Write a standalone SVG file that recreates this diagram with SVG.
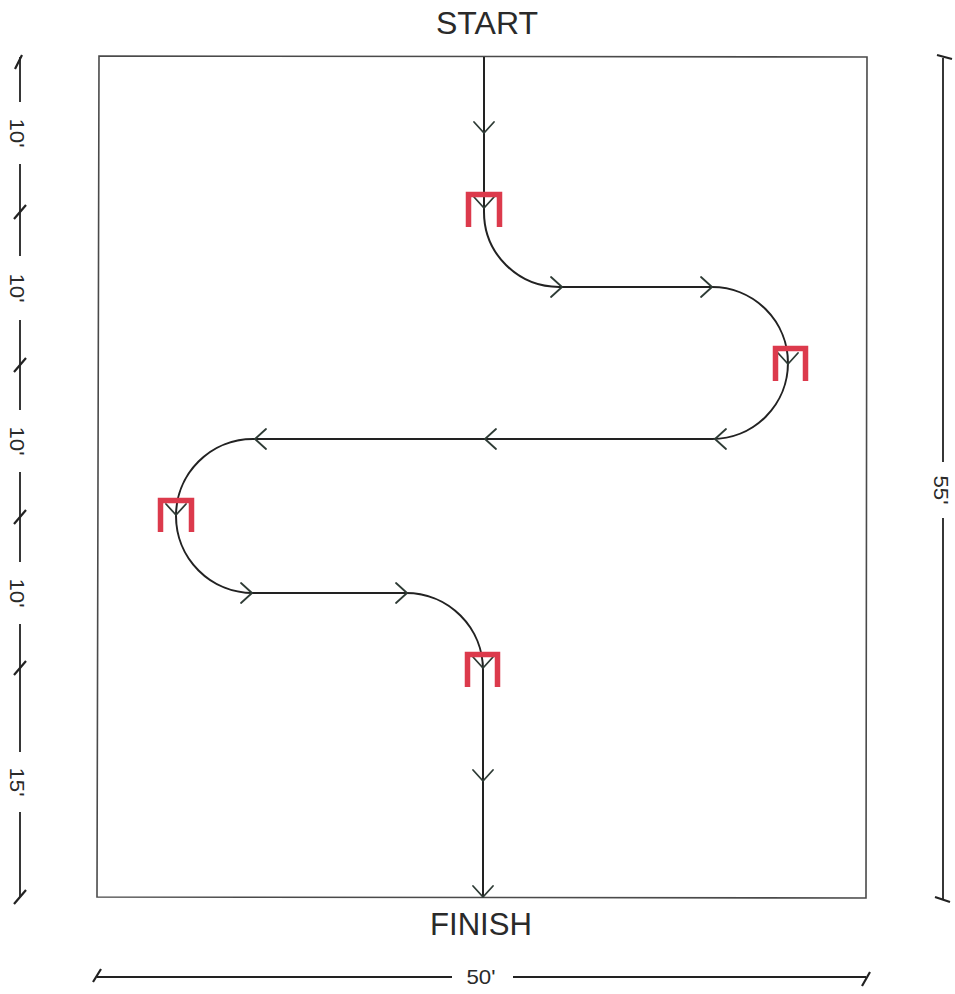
<svg xmlns="http://www.w3.org/2000/svg" width="955" height="994" viewBox="0 0 955 994">
<defs>
<style>
.bg{fill:#ffffff}
.box{fill:none;stroke:#4a4a4a;stroke-width:1.6}
.path{fill:none;stroke:#222;stroke-width:2}
.arr{fill:none;stroke:#2e3b35;stroke-width:1.8;stroke-linecap:round;stroke-linejoin:round}
.gate{fill:none;stroke:#dc3a4c;stroke-width:5.5;stroke-linejoin:miter}
.dim{fill:none;stroke:#222;stroke-width:1.8}
.tick{fill:none;stroke:#222;stroke-width:2.2}
.lbl{font-family:"Liberation Sans",Arial,sans-serif;fill:#2a2a2a}
.big{font-size:31px}
.sm{font-size:21px}
</style>
<path id="chev" class="arr" d="M-10,-11 L0,0 L10,-11"/>
</defs>
<rect class="bg" x="0" y="0" width="955" height="994"/>

<g id="arena">
<path class="box" d="M99,56 L867,57 L866,898 L97,897 Z"/>
</g>

<g id="connectors">
<path class="path" d="M484,57 V212 A75,75 0 0 0 559,287 H712 A76,76 0 0 1 712,439 H253 A77,77 0 0 0 253,593 H406 A77,77 0 0 1 483,670 V897"/>
<use href="#chev" transform="translate(484,133)"/>
<use href="#chev" transform="translate(484,208)"/>
<use href="#chev" transform="translate(562,287) rotate(-90)"/>
<use href="#chev" transform="translate(712,287) rotate(-90)"/>
<use href="#chev" transform="translate(788,364)"/>
<use href="#chev" transform="translate(715,439) rotate(90)"/>
<use href="#chev" transform="translate(485,439) rotate(90)"/>
<use href="#chev" transform="translate(255,439) rotate(90)"/>
<use href="#chev" transform="translate(176,515)"/>
<use href="#chev" transform="translate(252,593) rotate(-90)"/>
<use href="#chev" transform="translate(407,593) rotate(-90)"/>
<use href="#chev" transform="translate(483,668)"/>
<use href="#chev" transform="translate(483,781)"/>
<use href="#chev" transform="translate(483,897)"/>
</g>

<g id="gate1"><path class="gate" d="M468.5,227 V194.5 H499.5 V227"/></g>
<g id="gate2"><path class="gate" d="M775.5,381 V348.5 H805.5 V381"/></g>
<g id="gate3"><path class="gate" d="M160.5,532 V500.5 H191.5 V532"/></g>
<g id="gate4"><path class="gate" d="M467.5,687 V654.5 H497.5 V687"/></g>

<g id="start"><text class="lbl big" x="487" y="34" text-anchor="middle" textLength="102" lengthAdjust="spacingAndGlyphs">START</text></g>
<g id="finish"><text class="lbl big" x="481" y="935" text-anchor="middle" textLength="102" lengthAdjust="spacingAndGlyphs">FINISH</text></g>

<g id="dim-left">
<path class="dim" d="M20,57 V102 M20,164 V256 M20,320 V410 M20,472 V562 M20,624 V752 M20,812 V897"/>
<path class="tick" d="M15,69 L22,55 M14,219 L26,205 M14,372 L26,358 M14,524 L26,510 M14,675 L26,661 M14,904 L26,890"/>
<text class="lbl sm" transform="translate(10,133) rotate(90)" text-anchor="middle" textLength="29" lengthAdjust="spacingAndGlyphs">10'</text>
<text class="lbl sm" transform="translate(10,288) rotate(90)" text-anchor="middle" textLength="29" lengthAdjust="spacingAndGlyphs">10'</text>
<text class="lbl sm" transform="translate(10,441) rotate(90)" text-anchor="middle" textLength="29" lengthAdjust="spacingAndGlyphs">10'</text>
<text class="lbl sm" transform="translate(10,593) rotate(90)" text-anchor="middle" textLength="29" lengthAdjust="spacingAndGlyphs">10'</text>
<text class="lbl sm" transform="translate(10,782) rotate(90)" text-anchor="middle" textLength="29" lengthAdjust="spacingAndGlyphs">15'</text>
</g>

<g id="dim-right">
<path class="dim" d="M943,58 V462 M943,518 V899"/>
<path class="tick" d="M937,55 L952,59 M935,897 L950,902"/>
<text class="lbl sm" transform="translate(934,490) rotate(90)" text-anchor="middle" textLength="29" lengthAdjust="spacingAndGlyphs">55'</text>
</g>

<g id="dim-bottom">
<path class="dim" d="M97,977 H452 M513,977 H866"/>
<path class="tick" d="M93,982 L101,969 M862,986 L870,972"/>
<text class="lbl sm" x="481" y="984" text-anchor="middle" textLength="29" lengthAdjust="spacingAndGlyphs">50'</text>
</g>
</svg>
